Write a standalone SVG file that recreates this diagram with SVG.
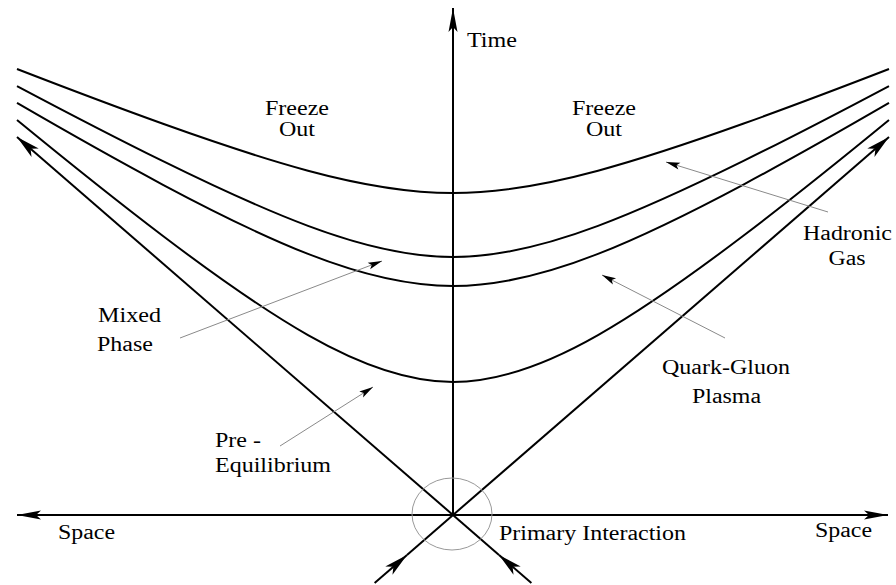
<svg xmlns="http://www.w3.org/2000/svg" width="896" height="585" viewBox="0 0 896 585">
<style>
.thick{fill:none;stroke:#000;stroke-width:2}
.curve{fill:none;stroke:#000;stroke-width:2}
.thin{fill:none;stroke:#8a8a8a;stroke-width:1}
</style>
<defs>
<marker id="big" viewBox="-26 -7 28 14" refX="0" refY="0" markerWidth="28" markerHeight="14" markerUnits="userSpaceOnUse" orient="auto"><path d="M0,0 L-24,-5.5 L-18,0 L-24,5.5 Z" fill="#000"/></marker>
<marker id="axis" viewBox="-26 -6 28 12" refX="0" refY="0" markerWidth="28" markerHeight="12" markerUnits="userSpaceOnUse" orient="auto"><path d="M0,0 L-24,-4.5 L-19,0 L-24,4.5 Z" fill="#000"/></marker>
<marker id="small" viewBox="-16 -5 18 10" refX="0" refY="0" markerWidth="18" markerHeight="10" markerUnits="userSpaceOnUse" orient="auto"><path d="M0,0 L-14,-3.5 L-11,0 L-14,3.5 Z" fill="#000"/></marker>
</defs>
<rect width="896" height="585" fill="#fff"/>
<g id="hyperbolas">
<path id="curve1" class="curve" d="M 17,69.04 C 65.67,87.87 114.33,106.34 163,123.79 C 211.33,141.12 259.67,157.62 308,170.69 C 356.33,183.76 404.67,193 453,193 C 501.33,193 549.67,183.76 598,170.69 C 646.33,157.62 694.67,141.12 743,123.79 C 791.67,106.34 840.33,87.87 889,69.04"/>
<path id="curve2" class="curve" d="M 17,86.01 C 65.67,111.81 114.33,137.14 163,161.13 C 211.33,184.96 259.67,207.72 308,225.86 C 356.33,244 404.67,257 453,257 C 501.33,257 549.67,244 598,225.86 C 646.33,207.72 694.67,184.96 743,161.13 C 791.67,137.14 840.33,111.81 889,86.01"/>
<path id="curve3" class="curve" d="M 17,102.97 C 65.67,131.2 114.33,158.84 163,184.79 C 211.33,210.56 259.67,234.9 308,253.92 C 356.33,272.94 404.67,286 453,286 C 501.33,286 549.67,272.94 598,253.92 C 646.33,234.9 694.67,210.56 743,184.79 C 791.67,158.84 840.33,131.2 889,102.97"/>
<path id="curve4" class="curve" d="M 17,120 C 65.67,159.91 114.33,199.05 163,235.99 C 211.33,272.67 259.67,307.54 308,335.09 C 356.33,362.64 404.67,382 453,382 C 501.33,382 549.67,362.64 598,335.09 C 646.33,307.54 694.67,272.67 743,235.99 C 791.67,199.05 840.33,159.91 889,120"/>
</g>
<g id="connectors">
<line class="thick" x1="453" y1="515" x2="453" y2="8" marker-end="url(#axis)"/>
<line class="thick" x1="453" y1="515" x2="17" y2="515" marker-end="url(#axis)"/>
<line class="thick" x1="453" y1="515" x2="888" y2="515" marker-end="url(#axis)"/>
<line class="thick" x1="374.6" y1="583" x2="407" y2="554.9" marker-end="url(#big)"/>
<line class="thick" x1="407" y1="554.9" x2="889" y2="137" marker-end="url(#big)"/>
<line class="thick" x1="531.4" y1="583" x2="499" y2="554.9" marker-end="url(#big)"/>
<line class="thick" x1="499" y1="554.9" x2="17" y2="137" marker-end="url(#big)"/>
<line class="thin" x1="180" y1="338" x2="382" y2="261" marker-end="url(#small)"/>
<line class="thin" x1="280" y1="446" x2="373" y2="387" marker-end="url(#small)"/>
<line class="thin" x1="725" y1="338" x2="602" y2="275" marker-end="url(#small)"/>
<line class="thin" x1="828" y1="212" x2="666" y2="162" marker-end="url(#small)"/>
</g>
<g font-family="Liberation Serif, Times New Roman, DejaVu Serif, serif" font-size="20" fill="#000">
<g id="primary-interaction">
<ellipse cx="452" cy="514" rx="40" ry="36" fill="none" stroke="#999" stroke-width="1"/>
<text x="499" y="540" textLength="187" lengthAdjust="spacingAndGlyphs">Primary Interaction</text>
</g>
<g id="time-label"><text x="467" y="47" textLength="50" lengthAdjust="spacingAndGlyphs">Time</text></g>
<g id="space-left"><text x="58" y="539" textLength="57" lengthAdjust="spacingAndGlyphs">Space</text></g>
<g id="space-right"><text x="815" y="537" textLength="57" lengthAdjust="spacingAndGlyphs">Space</text></g>
<g id="freeze-out-left">
<text x="265" y="115" textLength="64" lengthAdjust="spacingAndGlyphs">Freeze</text>
<text x="279" y="136" textLength="36" lengthAdjust="spacingAndGlyphs">Out</text>
</g>
<g id="freeze-out-right">
<text x="572" y="115" textLength="64" lengthAdjust="spacingAndGlyphs">Freeze</text>
<text x="586" y="136" textLength="36" lengthAdjust="spacingAndGlyphs">Out</text>
</g>
<g id="hadronic-gas">
<text x="803" y="240" textLength="89" lengthAdjust="spacingAndGlyphs">Hadronic</text>
<text x="828.5" y="265" textLength="37" lengthAdjust="spacingAndGlyphs">Gas</text>
</g>
<g id="quark-gluon-plasma">
<text x="662" y="374" textLength="128" lengthAdjust="spacingAndGlyphs">Quark-Gluon</text>
<text x="692" y="403" textLength="69" lengthAdjust="spacingAndGlyphs">Plasma</text>
</g>
<g id="mixed-phase">
<text x="98" y="322" textLength="63" lengthAdjust="spacingAndGlyphs">Mixed</text>
<text x="97" y="351" textLength="56" lengthAdjust="spacingAndGlyphs">Phase</text>
</g>
<g id="pre-equilibrium">
<text x="215" y="447" textLength="46" lengthAdjust="spacingAndGlyphs">Pre -</text>
<text x="215" y="472" textLength="116" lengthAdjust="spacingAndGlyphs">Equilibrium</text>
</g>
</g>
</svg>
